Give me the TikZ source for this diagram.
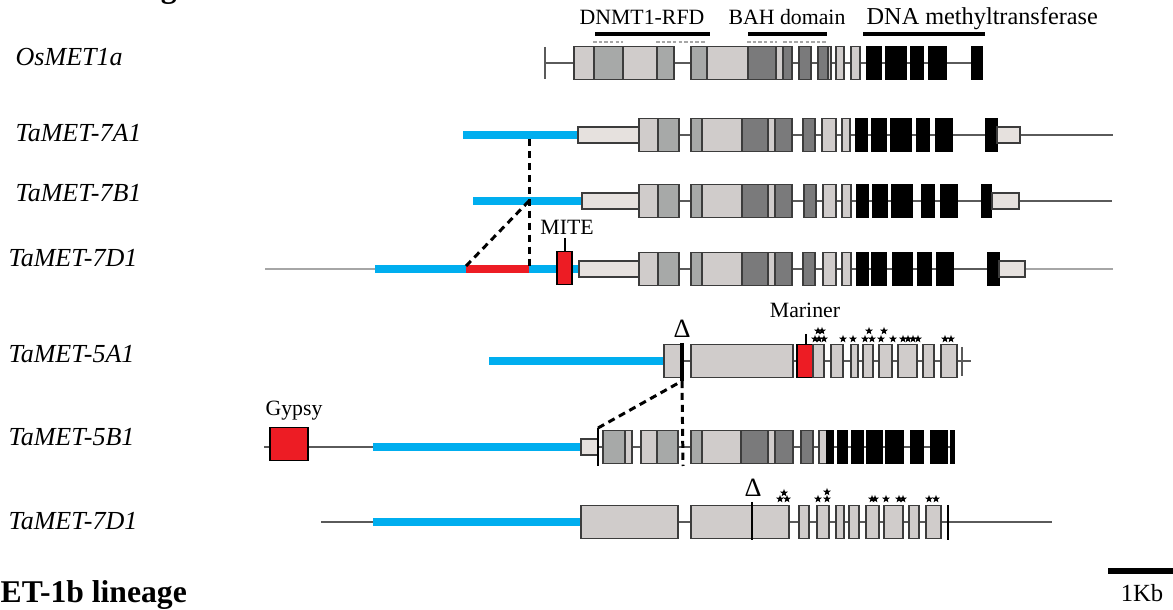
\documentclass[tikz,border=0pt]{standalone}
\usepackage{fontspec}
\setmainfont{Liberation Serif}
\usetikzlibrary{shapes.geometric}

\definecolor{exlight}{HTML}{D0CCCB}
\definecolor{exmid}{HTML}{A7A9A8}
\definecolor{exdark}{HTML}{7A7A7B}
\definecolor{exutr}{HTML}{E6E1DE}
\definecolor{exline}{HTML}{3C3C3C}
\definecolor{intr}{HTML}{5A5A5A}
\definecolor{tablue}{HTML}{00AEEF}
\definecolor{tered}{HTML}{ED1C24}

\tikzset{
  lex/.style={draw=exline, fill=exlight, line width=0.35pt},
  mex/.style={draw=exline, fill=exmid, line width=0.35pt},
  dex/.style={draw=exline, fill=exdark, line width=0.35pt},
  bex/.style={draw=black, fill=black, line width=0.35pt},
  rex/.style={draw=black, fill=tered, line width=0.35pt},
  utr/.style={draw=exline, fill=exutr, line width=0.35pt},
  intron/.style={draw=intr, line width=0.57pt},
  prom/.style={draw=tablue, line width=2pt},
  tepart/.style={draw=tered, line width=2pt},
  dline/.style={draw=black, line width=0.85pt, dash pattern=on 2pt off 1.4pt},
  dombar/.style={draw=black, line width=1.4pt},
  domdash/.style={draw=gray!70, line width=0.4pt, dash pattern=on 1pt off 0.6pt},
  gname/.style={anchor=base west, inner sep=0, font=\fontsize{7.4}{9}\selectfont\itshape},
  ann/.style={anchor=base, inner sep=0, font=\fontsize{6.2}{7}\selectfont},
  delta/.style={anchor=base, inner sep=0, font=\fontsize{7.5}{9}\selectfont},
  mstar/.style={star, star points=5, star point ratio=2.4, fill=black, inner sep=0, minimum size=2.3pt}
}

% exon box: x1, x2, centre y, style
\newcommand{\gbox}[4]{\draw[#4] (#1,#3-16.5) rectangle (#2,#3+16.5);}
% UTR box: x1, x2, centre y
\newcommand{\gutr}[3]{\draw[utr] (#1,#3-8) rectangle (#2,#3+8);}

\begin{document}
\begin{tikzpicture}[x=0.01cm, y=-0.01cm]

    \useasboundingbox (0,0) rectangle (1173,610);

    % Titles (cut by the frame)
    \node[anchor=base west, inner sep=0, font=\fontsize{9}{11}\selectfont\bfseries] (ttop) at (95,-2) {lineage};
    \node[anchor=base west, inner sep=0, font=\fontsize{9}{11}\selectfont\bfseries] (tbot) at (0,603) {ET-1b lineage};

    % Gene names
    \node[gname] (os)  at (15,66)  {OsMET1a};
    \node[gname] (a7)  at (15,142) {TaMET-7A1};
    \node[gname] (b7)  at (15,202) {TaMET-7B1};
    \node[gname] (d7)  at (8,267)  {TaMET-7D1};
    \node[gname] (a5)  at (8,363)  {TaMET-5A1};
    \node[gname] (b5)  at (8,446)  {TaMET-5B1};
    \node[gname] (d7b) at (8,530)  {TaMET-7D1};

    % Domains above OsMET1a
    \node[ann] (rfd) at (642,25) {DNMT1-RFD};
    \node[ann] (bah) at (787,25) {BAH domain};
    \node[ann, anchor=base west, font=\fontsize{6.9}{8}\selectfont] (mtase) at (866,25) {DNA methyltransferase};
    \draw[dombar] (595,34) -- (710,34);
    \draw[dombar] (748,34) -- (827,34);
    \draw[dombar] (863,34) -- (985,34);
    \draw[domdash] (593,42) -- (623,42);
    \draw[domdash] (656,42) -- (706,42);
    \draw[domdash] (747,42) -- (777,42);
    \draw[domdash] (783,42) -- (827,42);

    % OsMET1a
    \draw[intron] (545,63) -- (982,63);
    \draw[intron] (545,47) -- (545,79);
    \gbox{574}{594}{63}{lex} \gbox{594}{623}{63}{mex} \gbox{623}{657}{63}{lex} \gbox{657}{674}{63}{mex}
    \gbox{691}{707}{63}{mex} \gbox{707}{748}{63}{lex} \gbox{748}{776}{63}{dex} \gbox{776}{783}{63}{lex} \gbox{783}{792}{63}{dex}
    \gbox{799}{811}{63}{dex} \gbox{818}{828}{63}{dex} \gbox{828}{831}{63}{lex}
    \gbox{836}{844}{63}{lex} \gbox{851}{860}{63}{lex}
    \foreach \a/\b in {867/881, 886/906, 911/923, 929/946, 972/982}
        {\gbox{\a}{\b}{63}{bex}}

    % TaMET-7A1
    \draw[intron] (578,135) -- (1113,135);
    \draw[prom] (463,135) -- (578,135);
    \gutr{578}{639}{135}
    \gbox{639}{658}{135}{lex} \gbox{658}{679}{135}{mex}
    \gbox{691}{702}{135}{mex} \gbox{702}{742}{135}{lex} \gbox{742}{768}{135}{dex} \gbox{768}{775}{135}{lex} \gbox{775}{792}{135}{dex}
    \gbox{803}{815}{135}{dex} \gbox{822}{836}{135}{lex} \gbox{842}{850}{135}{lex}
    \foreach \a/\b in {856/867, 872/886, 891/911, 917/929, 936/952, 986/997}
        {\gbox{\a}{\b}{135}{bex}}
    \gutr{997}{1020}{135}

    % TaMET-7B1
    \draw[intron] (582,201) -- (1112,201);
    \draw[prom] (473,201) -- (582,201);
    \gutr{582}{639}{201}
    \gbox{639}{658}{201}{lex} \gbox{658}{679}{201}{mex}
    \gbox{691}{702}{201}{mex} \gbox{702}{742}{201}{lex} \gbox{742}{768}{201}{dex} \gbox{768}{775}{201}{lex} \gbox{775}{792}{201}{dex}
    \gbox{804}{816}{201}{dex} \gbox{823}{836}{201}{lex} \gbox{842}{851}{201}{lex}
    \foreach \a/\b in {857/868, 873/887, 892/912, 922/934, 941/957, 982/991}
        {\gbox{\a}{\b}{201}{bex}}
    \gutr{992}{1019}{201}

    % TaMET-7D1
    \draw[intron, draw=gray!70] (265,269) -- (375,269);
    \draw[intron] (579,269) -- (1000,269);
    \draw[intron, draw=gray!70] (1000,269) -- (1113,269);
    \draw[prom] (375,269) -- (466,269);
    \draw[tepart] (466,269) -- (529,269);
    \draw[prom] (529,269) -- (579,269);
    \draw[black, line width=0.4pt] (565,238) -- (565,253);
    \gbox{557}{572}{268}{rex}
    \node[ann] (mite) at (567,235) {MITE};
    \gutr{579}{639}{269}
    \gbox{639}{658}{269}{lex} \gbox{658}{679}{269}{mex}
    \gbox{691}{702}{269}{mex} \gbox{702}{742}{269}{lex} \gbox{742}{768}{269}{dex} \gbox{768}{775}{269}{lex} \gbox{775}{792}{269}{dex}
    \gbox{803}{815}{269}{dex} \gbox{823}{836}{269}{lex} \gbox{842}{851}{269}{lex}
    \foreach \a/\b in {857/868, 872/886, 893/912, 918/931, 937/953, 988/999}
        {\gbox{\a}{\b}{269}{bex}}
    \gutr{999}{1025}{269}

    % dashed links between the 7A1, 7B1 and 7D1 promoters
    \coordinate (p7a) at (529,139);
    \coordinate (p7b) at (529,201);
    \coordinate (p7d) at (529,266);
    \coordinate (r7d) at (466,266);
    \draw[dline] (p7a) -- (p7d);
    \draw[dline] (r7d) -- (p7b);

    % TaMET-5A1
    \draw[intron] (664,361) -- (971,361);
    \draw[prom] (489,361) -- (664,361);
    \gbox{664}{681}{361}{lex}
    \draw[black, line width=1.1pt] (682,343) -- (682,381);
    \node[delta] (del5a) at (682,338) {Δ};
    \gbox{691}{793}{361}{lex}
    \draw[black, line width=0.4pt] (806,334) -- (806,345);
    \gbox{797}{813}{361}{rex}
    \node[ann] (mar) at (805,318) {Mariner};
    \foreach \a/\b in {813/824, 831/843, 851/858, 863/873, 879/892, 898/917, 923/934, 941/957}
        {\gbox{\a}{\b}{361}{lex}}
    \draw[intr, line width=0.57pt] (962,347) -- (962,376);
    \foreach \sx/\sy [count=\i] in {818/331, 822/331, 815/339, 819/339, 824/339, 843/339, 853/339,
        865/339, 872/339, 869/331, 881/339, 884/331, 893/339,
        903/339, 908/339, 913/339, 918/339, 945/339, 951/339}
        \node[mstar] (s5a-\i) at (\sx,\sy) {};

    % TaMET-5B1
    \draw[intron] (264,447) -- (373,447);
    \gbox{270}{308}{444}{rex}
    \node[ann] (gyp) at (294,416) {Gypsy};
    \draw[intron] (581,447) -- (954,447);
    \draw[prom] (373,447) -- (581,447);
    \gutr{581}{598}{447}
    \draw[black, line width=0.6pt] (598,428) -- (598,466);
    \gbox{603}{625}{447}{mex} \gbox{625}{632}{447}{lex}
    \gbox{641}{657}{447}{lex} \gbox{657}{678}{447}{mex}
    \gbox{691}{702}{447}{mex} \gbox{702}{741}{447}{lex} \gbox{741}{768}{447}{dex} \gbox{768}{775}{447}{lex} \gbox{775}{793}{447}{dex}
    \gbox{801}{813}{447}{dex} \gbox{819}{827}{447}{lex} \gbox{827}{833}{447}{bex}
    \foreach \a/\b in {838/847, 852/863, 867/882, 886/903, 911/923, 931/947, 951/954}
        {\gbox{\a}{\b}{447}{bex}}

    % dashed links from the 5A1 deletion to 5B1
    \coordinate (x5a) at (682,381);
    \coordinate (x5b) at (683,466);
    \coordinate (u5b) at (598,428);
    \draw[dline] (x5a) -- (x5b);
    \draw[dline] (u5b) -- (x5a);

    % TaMET-7D1 (second copy)
    \draw[intron] (321,522) -- (373,522);
    \draw[intron] (581,522) -- (1052,522);
    \draw[prom] (373,522) -- (581,522);
    \gbox{581}{678}{522}{lex}
    \gbox{691}{789}{522}{lex}
    \draw[black, line width=0.8pt] (752,502) -- (752,540);
    \node[delta] (del7d) at (753,497) {Δ};
    \foreach \a/\b in {799/809, 817/829, 836/844, 849/859, 866/879, 884/903, 909/919, 926/941}
        {\gbox{\a}{\b}{522}{lex}}
    \draw[black, line width=0.6pt] (948,505) -- (948,540);
    \foreach \sx/\sy [count=\i] in {780/499, 787/499, 784/493, 818/499, 827/499, 827/492,
        872/499, 875/499, 886/499, 899/499, 903/499, 929/499, 936/499}
        \node[mstar] (s7d-\i) at (\sx,\sy) {};

    % scale bar
    \draw[black, line width=1.5pt] (1108,571) -- (1173,571);
    \node[ann, font=\fontsize{7}{8}\selectfont] (kb) at (1142,602) {1Kb};

\end{tikzpicture}
\end{document}
